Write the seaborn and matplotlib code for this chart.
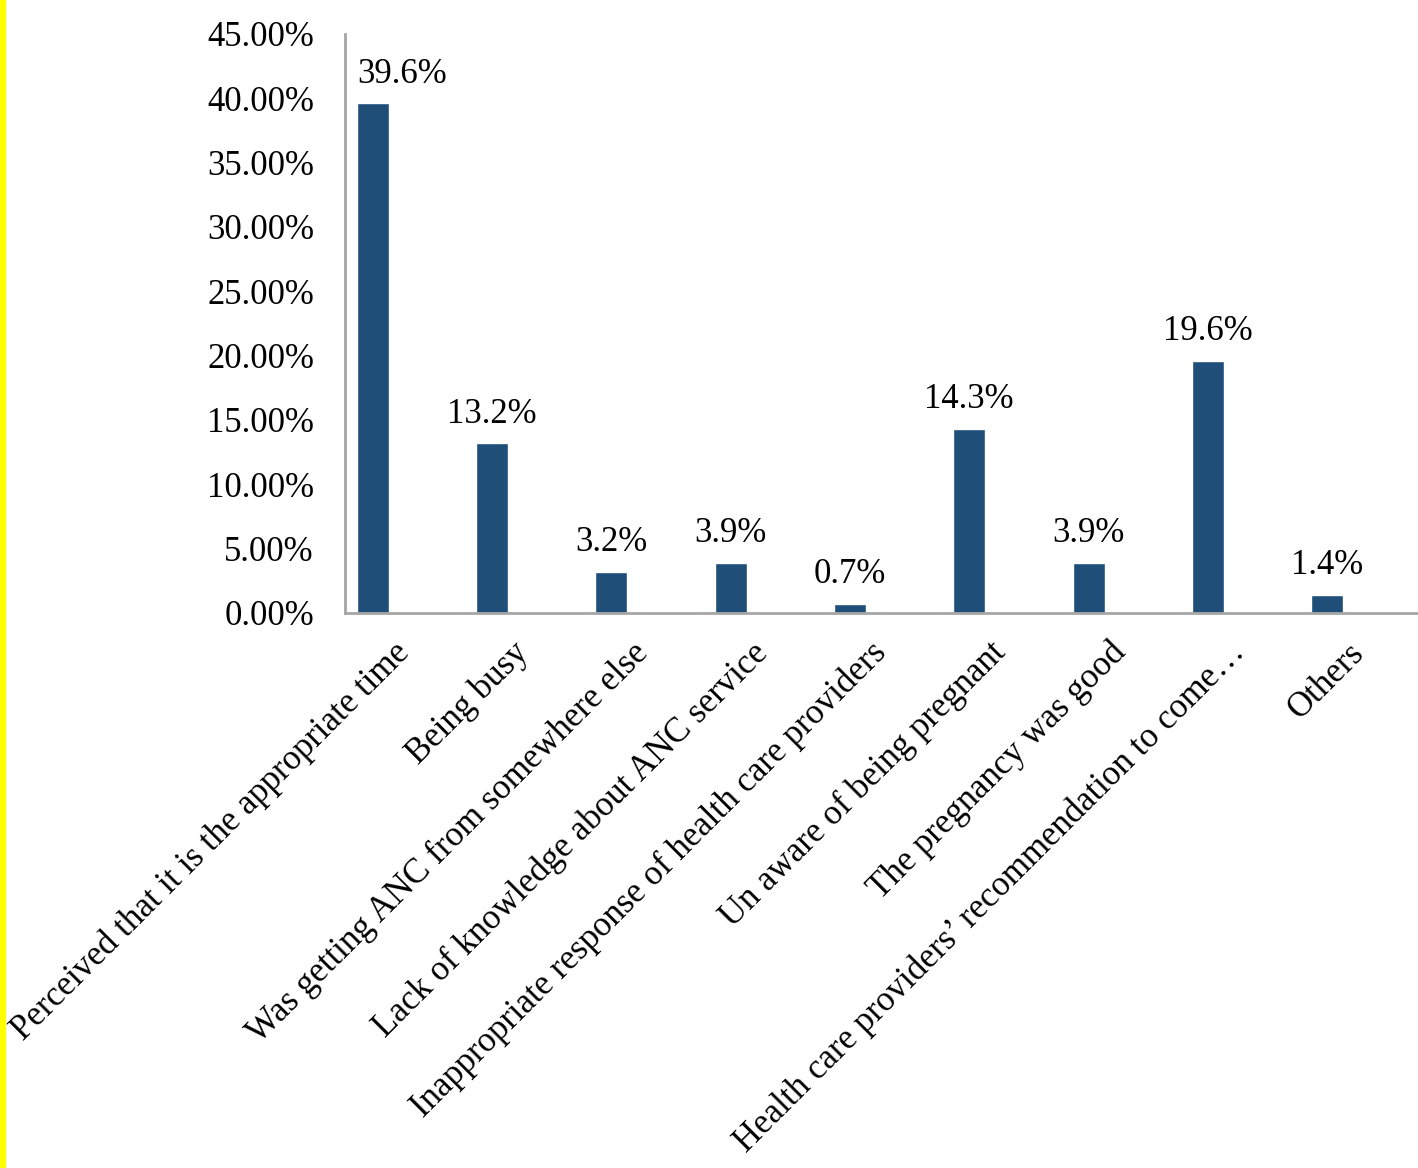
import matplotlib.pyplot as plt
import matplotlib.transforms as mtransforms
import seaborn as sns
import pandas as pd
from matplotlib.patches import Rectangle

# Reasons for late ANC booking
reasons = [
    'Perceived that it is the appropriate time',
    'Being busy',
    'Was getting ANC from somewhere else',
    'Lack of knowledge about ANC service',
    'Inappropriate response of health care providers',
    'Un aware of being pregnant',
    'The pregnancy was good',
    'Health care providers\u2019 recommendation to come\u2026',
    'Others',
]
percent = [39.6, 13.2, 3.2, 3.9, 0.7, 14.3, 3.9, 19.6, 1.4]
value_labels = ['39.6%', '13.2%', '3.2%', '3.9%', '0.7%', '14.3%', '3.9%', '19.6%', '1.4%']
y_ticks = [0, 5, 10, 15, 20, 25, 30, 35, 40, 45]

data = pd.DataFrame({'reason': reasons, 'share': [p / 100 for p in percent]})

sns.set_style('white')
plt.rcParams['font.family'] = ['Liberation Serif', 'DejaVu Serif']
plt.rcParams['text.color'] = 'black'
plt.rcParams['xtick.color'] = 'black'
plt.rcParams['ytick.color'] = 'black'

fig = plt.figure(figsize=(14.18, 11.68), dpi=100)
ax = fig.add_axes([0.243, 0.4752, 0.757, 0.4958])

sns.barplot(data=data, x='reason', y='share', color='#1f4e79', width=0.27,
            saturation=1, ax=ax)

ax.set_xlim(-0.235, 8.76)
ax.set_ylim(0, 0.45)
ax.set_yticks([t / 100 for t in y_ticks])
ax.set_yticklabels([f'{t:.2f}%' for t in y_ticks], fontsize=25)
ax.set_xlabel('')
ax.set_ylabel('')
ax.tick_params(axis='both', length=0, labelcolor='black')
ax.tick_params(axis='y', pad=22)

# rotated category labels
ax.set_xticks(range(len(reasons)))
ax.set_xticklabels(reasons, rotation=45, ha='right', va='center',
                   rotation_mode='anchor', fontsize=25)
shift = mtransforms.ScaledTranslation(32 / 100, -30 / 100, fig.dpi_scale_trans)
for lbl in ax.get_xticklabels():
    lbl.set_transform(lbl.get_transform() + shift)

# value labels above bars
for i, (p, txt) in enumerate(zip(percent, value_labels)):
    dx = 21 if i == 0 else 0
    ax.annotate(txt, xy=(i, p / 100), xytext=(dx, 9), textcoords='offset points',
                ha='center', va='bottom', fontsize=25, color='black')

for side in ['top', 'right']:
    ax.spines[side].set_visible(False)
for side in ['left', 'bottom']:
    ax.spines[side].set_color('#a6a6a6')
    ax.spines[side].set_linewidth(2)

# yellow strip on the left edge
fig.patches.append(Rectangle((0, 0), 5 / 1418, 1, transform=fig.transFigure,
                             color='#ffff00', zorder=0))

fig.savefig('out.png', dpi=100)
